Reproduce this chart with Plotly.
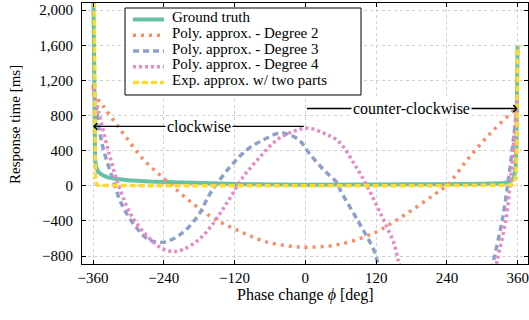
import plotly.graph_objects as go

# ---------------- data ----------------
gt_x = [-359.6, -359, -358.3, -357.5, -356.5, -355, -352, -345, -335, -322, -300, -265,
        -200, -158, -100, 0, 100, 200, 280, 320, 337, 345, 351, 354, 356.5, 358, 359.3, 359.8]
gt_y = [2300, 1500, 900, 500, 300, 220, 165, 125, 95, 80, 62, 49,
        33, 25, 18, 12, 12, 15, 20, 26, 31, 45, 68, 110, 220, 500, 1000, 1600]

d2_x = [-360, -342, -311, -274, -234, -192, -156, -110, -65, -20, 3, 54, 116, 173, 218, 241, 277, 314, 354, 360]
d2_y = [1060, 900, 615, 296, 49, -197, -370, -521, -642, -691, -699, -672, -539, -311, -103, 11, 316, 600, 866, 915]

d3_x = [-360, -354, -345, -328, -311, -288, -265, -240, -209, -181, -161, -127, -99, -71, -45, -31, -11, 8.5,
        31, 54, 59, 88, 116, 122, 126, None, 316, 320, 334, 345, 354, 360]
d3_y = [1150, 866, 486, 106, -217, -464, -615, -642, -539, -330, -83, 220, 410, 524, 600, 589, 524, 353,
        182, 31, -46, -387, -729, -862, -960, None, -960, -824, -387, 106, 600, 950]

d4_x = [-360, -350, -333, -316, -294, -265, -245, -226, -209, -181, -158, -133, -105, -76, -48, -20, 3, 31,
        57, 82, 105, 127, 150, 158, 162, None, 322, 325.5, 340, 348, 354, 360]
d4_y = [1120, 828, 373, -8, -350, -596, -705, -748, -729, -615, -444, -197, 106, 334, 524, 619, 657, 600,
        500, 259, -8, -311, -653, -862, -960, None, -960, -843, -387, 68, 562, 1050]

ex_x = [-358, -357.5, -357, -356, -354.5, -352, -345, -300, -200, 0, 200, 300, 345, 350, 353, 356.5, 358.5, 359.5, 359.9]
ex_y = [2300, 800, 200, 80, 25, 5, 2, 1, 0, 0, 0, 1, 4, 8, 25, 106, 400, 1000, 1600]

names = ["Ground truth", "Poly. approx. - Degree 2", "Poly. approx. - Degree 3",
         "Poly. approx. - Degree 4", "Exp. approx. w/ two parts"]

x_ticks = [-360, -240, -120, 0, 120, 240, 360]
x_ticktext = ["\u2212360", "\u2212240", "\u2212120", "0", "120", "240", "360"]
y_ticks = [-800, -400, 0, 400, 800, 1200, 1600, 2000]
y_ticktext = ["\u2212800", "\u2212400", "0", "400", "800", "1,200", "1,600", "2,000"]

arrow_cw = {"tip": (-360, 676), "tail": (0, 676), "label": "clockwise"}
arrow_ccw = {"tip": (360, 880), "tail": (0, 880), "label": "counter-clockwise"}

# ---------------- styles ----------------
colors = ["#66c2a5", "#fc8d62", "#8da0cb", "#e78ac3", "#ffd92f"]
widths = [4, 3.5, 3.5, 3.5, 3.5]
dashes = ["solid", "3px,5px", "6px,4px", "3px,3px", "6px,3px"]
shapes_ = ["linear", "spline", "spline", "spline", "linear"]
FONT = "'Liberation Serif', 'Times New Roman', 'DejaVu Serif', serif"

series = [(gt_x, gt_y), (d2_x, d2_y), (d3_x, d3_y), (d4_x, d4_y), (ex_x, ex_y)]

fig = go.Figure()
for i, (xs, ys) in enumerate(series):
    line = dict(color=colors[i], width=widths[i], dash=dashes[i], shape=shapes_[i])
    if shapes_[i] == "spline":
        line["smoothing"] = 1
    fig.add_trace(go.Scatter(x=xs, y=ys, name=names[i], mode="lines", line=line, showlegend=False))

axis_common = dict(showline=True, linecolor="black", linewidth=1, mirror="ticks",
                   ticks="inside", ticklen=4, tickcolor="black", tickwidth=1,
                   showgrid=True, gridcolor="#cfcfcf", griddash="dot", gridwidth=1,
                   zeroline=False, tickfont=dict(family=FONT, size=15, color="black"))

fig.update_xaxes(range=[-378.7, 377.5], tickvals=x_ticks, ticktext=x_ticktext,
                 ticklabelstandoff=0, **axis_common)
fig.update_yaxes(range=[-891, 2082], tickvals=y_ticks, ticktext=y_ticktext,
                 ticklabelstandoff=5, **axis_common)

# plot area in pixels (for converting legend placement to paper coords)
PL, PR, PT, PB = 82, 528, 3, 264
def px(xp):
    return (xp - PL) / (PR - PL)
def py(yp):
    return (PB - yp) / (PB - PT)

annotations = []
shapes = []
for arr in (arrow_cw, arrow_ccw):
    annotations.append(dict(x=arr["tip"][0], y=arr["tip"][1], ax=arr["tail"][0], ay=arr["tail"][1],
                            xref="x", yref="y", axref="x", ayref="y", text="", showarrow=True,
                            arrowhead=4, arrowsize=1, arrowwidth=1.3, arrowcolor="black", standoff=0))
    annotations.append(dict(x=(arr["tip"][0] + arr["tail"][0]) / 2, y=arr["tip"][1], xref="x", yref="y",
                            text=arr["label"], showarrow=False, bgcolor="white",
                            xanchor="center", yanchor="middle",
                            font=dict(family=FONT, size=16, color="black")))
annotations.append(dict(x=-0.150, y=0.533, xref="paper", yref="paper", text="Response time [ms]",
                        textangle=-90, showarrow=False, xanchor="center", yanchor="middle",
                        font=dict(family=FONT, size=15, color="black")))
annotations.append(dict(x=0.502, y=py(295), xref="paper", yref="paper", text="Phase change <i>ϕ</i> [deg]",
                        showarrow=False, xanchor="center", yanchor="middle",
                        font=dict(family=FONT, size=16, color="black")))

# legend box (drawn by hand so that its rows are as tight as the reference)
shapes.append(dict(type="rect", xref="paper", yref="paper", x0=px(125), x1=px(361), y0=py(95), y1=py(8),
                   line=dict(color="black", width=1), fillcolor="white", layer="above"))
for i, nm in enumerate(names):
    row = 16.5 + i * 15.75
    shapes.append(dict(type="line", xref="paper", yref="paper", x0=px(133), x1=px(164),
                       y0=py(row + 3), y1=py(row + 3), layer="above",
                       line=dict(color=colors[i], width=widths[i], dash=dashes[i])))
    annotations.append(dict(x=px(170), y=py(row + 0.5), xref="paper", yref="paper", text=nm,
                            showarrow=False, xanchor="left", yanchor="middle",
                            font=dict(family=FONT, size=15, color="black")))

fig.update_layout(
    width=529, height=320,
    margin=dict(l=PL, r=529 - PR, t=PT, b=320 - PB),
    plot_bgcolor="white", paper_bgcolor="white",
    font=dict(family=FONT, color="black"),
    showlegend=False,
    annotations=annotations,
    shapes=shapes,
)

fig.write_html("out.html", config={"displayModeBar": False},
               post_script="document.body.style.margin='0';")
